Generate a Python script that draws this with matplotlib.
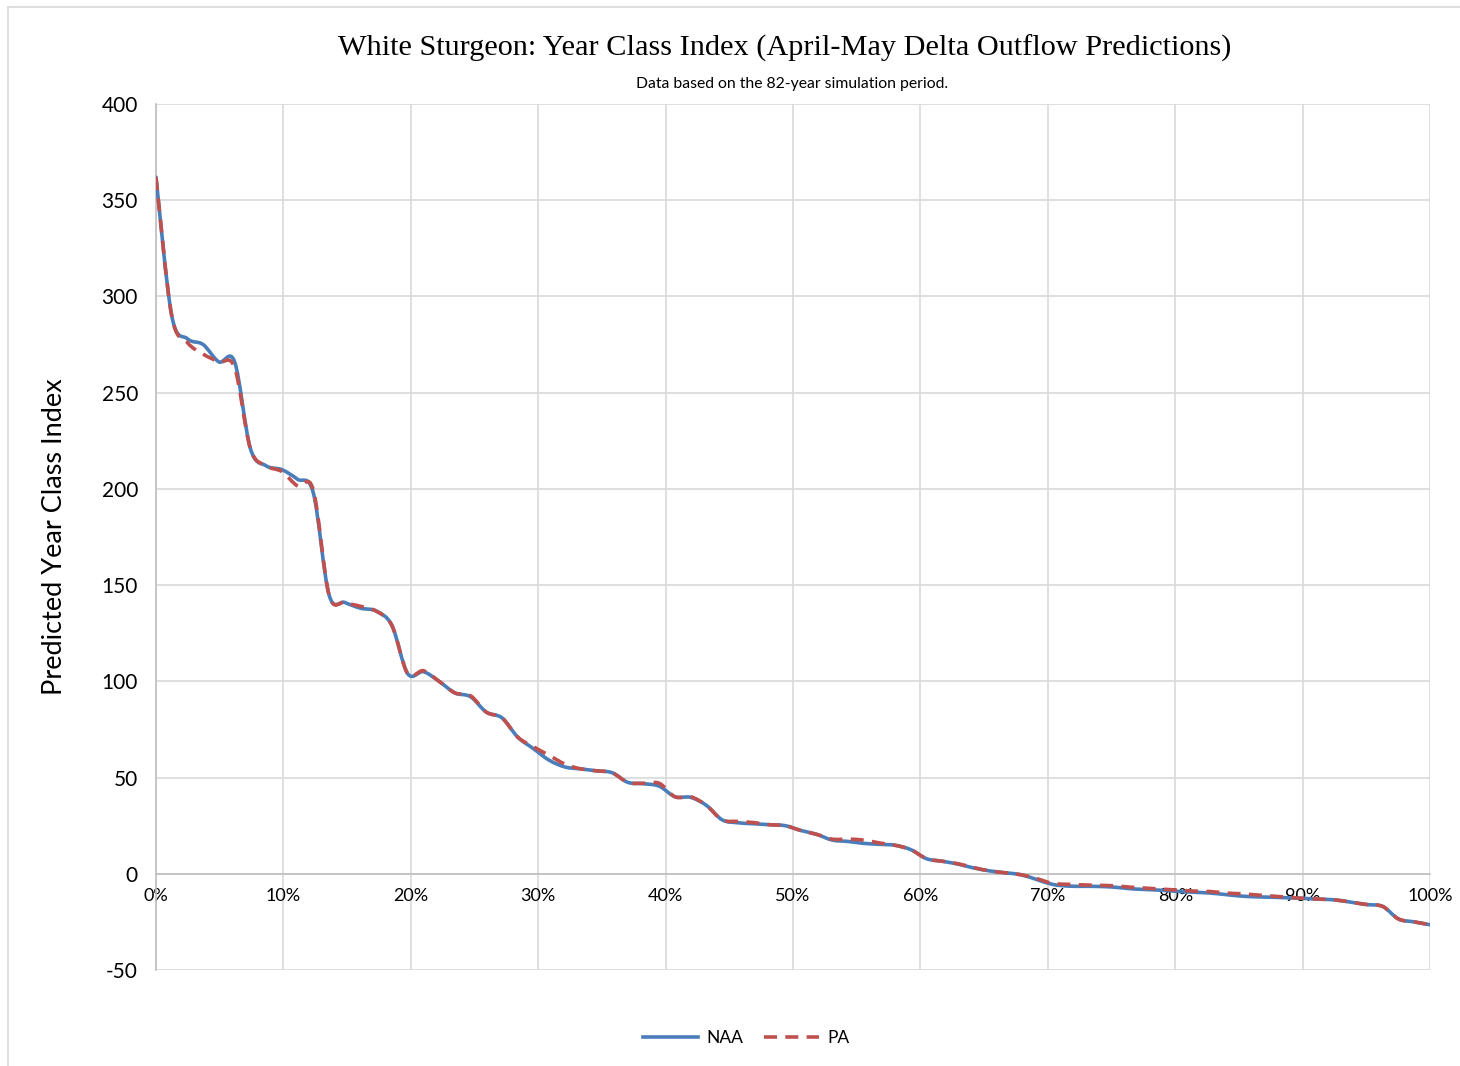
import numpy as np
import matplotlib
matplotlib.use("Agg")
import matplotlib.pyplot as plt
from matplotlib.path import Path
from matplotlib.patches import PathPatch
from matplotlib.lines import Line2D
from matplotlib.ticker import FuncFormatter

plt.rcParams["axes.unicode_minus"] = False

# 82 simulated years, sorted high to low (exceedance)
naa = [362, 290, 278, 275, 266, 266, 221, 212, 210, 205,
       198, 145, 141, 138, 136.5, 129, 104, 105, 100, 94,
       92, 84, 81, 71, 65, 59, 55.5, 54.5, 53.5, 52.5,
       47.5, 46.8, 45.5, 40, 39.7, 35.5, 28, 26.5, 26, 25.5,
       25, 22.5, 20.5, 17.5, 16.8, 15.8, 15.3, 14.8, 12.5, 7.8,
       6.5, 5, 3, 1.5, 0.5, -0.5, -3, -5.5, -6.4, -6.5,
       -6.6, -7, -7.8, -8.2, -8.6, -9.2, -9.6, -10, -10.8, -11.6,
       -12, -12.2, -12.5, -12.8, -13.2, -13.6, -14.8, -16, -17, -23.5,
       -25, -26.5]
pa = [362, 290, 276, 270, 266, 263, 221, 212, 209, 201.5,
      199.5, 145, 141, 139, 136.5, 129, 104, 105.5, 100, 94,
      92.5, 84, 81, 71, 66, 61.5, 57, 54.5, 53.5, 52.5,
      47.5, 47, 47, 40, 40, 35.5, 28, 27.2, 26.6, 25.5,
      25, 22.5, 20.5, 18, 18, 17.5, 16, 14.8, 12.5, 7.8,
      6.5, 5.2, 3.2, 1.5, 0.5, -0.5, -2.5, -5, -5.5, -5.8,
      -6, -6.3, -7, -7.5, -8, -8.5, -9, -9.2, -10, -10.4,
      -11, -11.6, -12.2, -12.8, -13.2, -13.6, -14.8, -16, -17, -23.5,
      -25, -26.5]

title = "White Sturgeon: Year Class Index (April-May Delta Outflow Predictions)"
subtitle = "Data based on the 82-year simulation period."


def smooth_path(x, y):
    # excel-like smoothed line: cubic bezier through each point
    x = np.asarray(x, float)
    y = np.asarray(y, float)
    n = len(x)
    verts = [(x[0], y[0])]
    codes = [Path.MOVETO]
    for i in range(n - 1):
        p0 = np.array([x[max(i - 1, 0)], y[max(i - 1, 0)]])
        p1 = np.array([x[i], y[i]])
        p2 = np.array([x[i + 1], y[i + 1]])
        p3 = np.array([x[min(i + 2, n - 1)], y[min(i + 2, n - 1)]])
        c1 = p1 + (p2 - p0) / 6.0
        c2 = p2 - (p3 - p1) / 6.0
        verts += [tuple(c1), tuple(c2), tuple(p2)]
        codes += [Path.CURVE4] * 3
    return Path(verts, codes)


blue = "#4a7ebb"
red = "#c0504d"
sans = ["Lato", "DejaVu Sans"]
dash = (0, (3.6, 2.3))

fig = plt.figure(figsize=(14.6, 10.66), dpi=100)
ax = fig.add_axes([156 / 1460, 1 - 970 / 1066, (1430 - 156) / 1460, (970 - 104) / 1066])

x = np.linspace(0, 1, len(naa))
ax.add_patch(PathPatch(smooth_path(x, naa), fill=False, edgecolor=blue, lw=2.6,
                       capstyle="round", joinstyle="round", zorder=3))
ax.add_patch(PathPatch(smooth_path(x, pa), fill=False, edgecolor=red, lw=2.6,
                       linestyle=dash, zorder=4))

ax.set_xlim(0, 1)
ax.set_ylim(-50, 400)
ax.set_xticks(np.arange(0, 1.01, 0.1))
ax.set_yticks(np.arange(-50, 401, 50))
ax.xaxis.set_major_formatter(FuncFormatter(lambda v, p: "%d%%" % round(v * 100)))
ax.grid(True, color="#d9d9d9", lw=1.2, zorder=0)
ax.set_axisbelow(True)
for s in ["top", "right"]:
    ax.spines[s].set_visible(False)
ax.spines["left"].set_color("#bfbfbf")
ax.spines["left"].set_linewidth(1.2)
ax.spines["bottom"].set_position(("data", 0))
ax.spines["bottom"].set_color("#bfbfbf")
ax.spines["bottom"].set_linewidth(1.2)
ax.tick_params(length=0)
ax.tick_params(axis="x", pad=10, labelsize=13)
ax.tick_params(axis="y", pad=13, labelsize=15)
for lab in ax.get_xticklabels() + ax.get_yticklabels():
    lab.set_family(sans)
ax.set_ylabel("Predicted Year Class Index", fontsize=19.5, family=sans, labelpad=25)

fig.text(785 / 1460, 1 - 48 / 1066, title, ha="center", va="center",
         fontsize=21.8, family=["Liberation Serif", "DejaVu Serif"])
fig.text(792 / 1460, 1 - 84 / 1066, subtitle, ha="center", va="center",
         fontsize=11.3, family=sans)

handles = [Line2D([], [], color=blue, lw=2.6),
           Line2D([], [], color=red, lw=2.6, linestyle=dash)]
fig.legend(handles, ["NAA", "PA"], loc="center", bbox_to_anchor=(746 / 1460, 1 - 1038 / 1066),
           ncol=2, frameon=False, prop={"family": sans, "size": 12.5},
           handlelength=3.2, columnspacing=1.2, handletextpad=0.45)

# outer chart border (partially cropped)
fig.add_artist(Line2D([8 / 1460, 8 / 1460], [0, 1 - 7 / 1066], color="#d9d9d9", lw=1.2,
                      transform=fig.transFigure))
fig.add_artist(Line2D([8 / 1460, 1], [1 - 7 / 1066, 1 - 7 / 1066], color="#d9d9d9", lw=1.2,
                      transform=fig.transFigure))

fig.savefig("out.png", dpi=100)
